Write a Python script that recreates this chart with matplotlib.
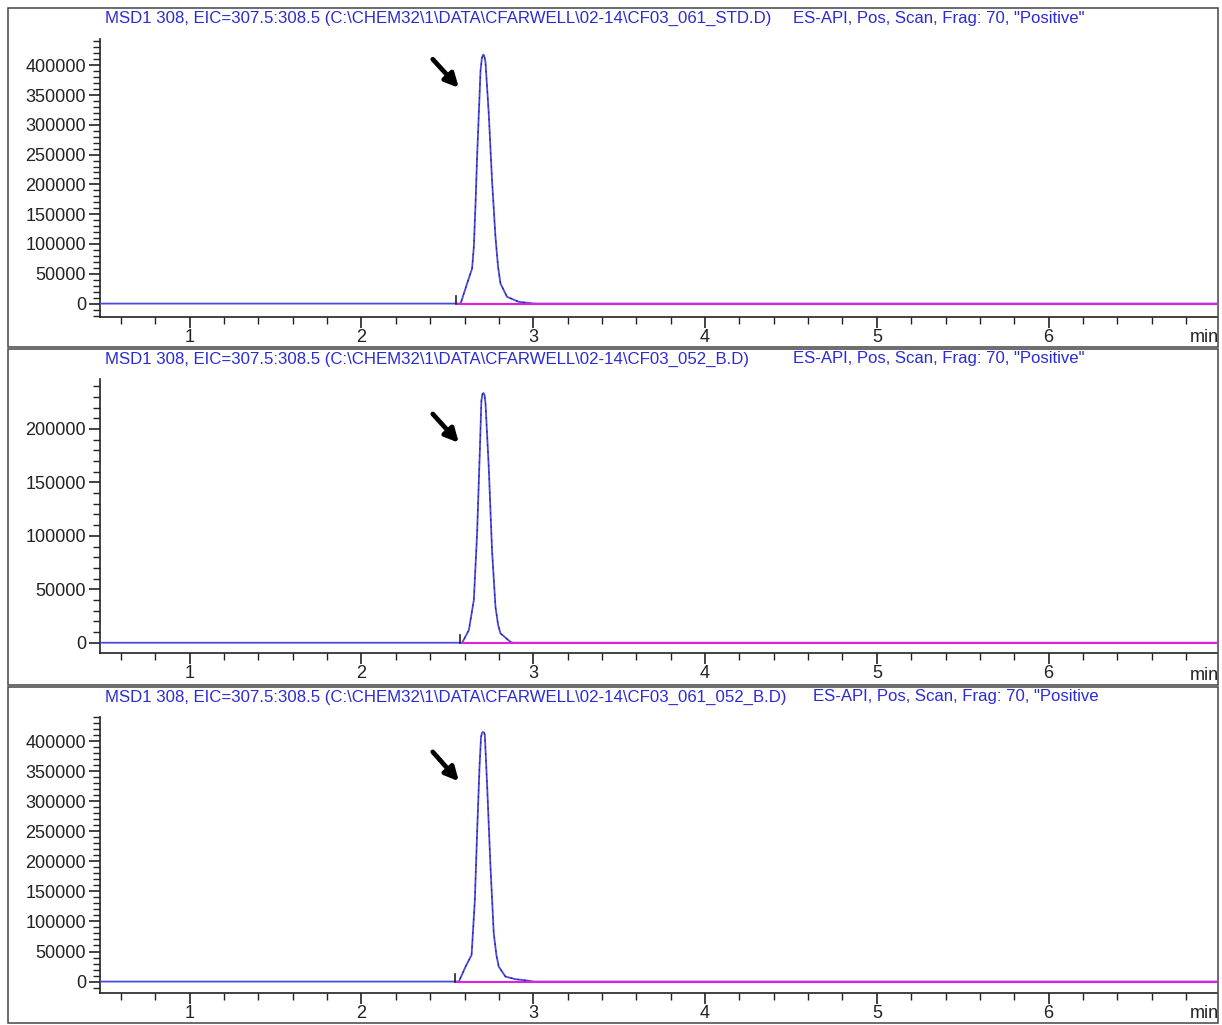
import numpy as np
import matplotlib.pyplot as plt
from matplotlib.ticker import MultipleLocator, AutoMinorLocator
from matplotlib.patches import Rectangle

plt.rcParams['font.family'] = ['Liberation Sans', 'DejaVu Sans']

# EIC m/z 308 traces, retention time (min) vs abundance
t_std = [0.48, 2.552, 2.577, 2.615, 2.644, 2.654, 2.664, 2.673, 2.683, 2.693, 2.701, 2.708,
         2.714, 2.722, 2.741, 2.760, 2.780, 2.795, 2.809, 2.847, 2.915, 2.992, 3.02, 6.98]
a_std = [0, 0, 0, 33800, 58900, 95000, 167700, 245700, 318300, 390800, 412000, 417600,
         416500, 405000, 318300, 206700, 111800, 62000, 33800, 11400, 3000, 400, 0, 0]

t_b = [0.48, 2.573, 2.586, 2.625, 2.654, 2.673, 2.689, 2.698, 2.704, 2.710, 2.716, 2.722,
       2.741, 2.760, 2.780, 2.795, 2.809, 2.866, 2.88, 6.98]
a_b = [0, 0, 0, 11800, 39800, 102000, 179600, 226200, 232500, 233600, 232000, 224000,
       164000, 86400, 33600, 17000, 8800, 900, 0, 0]

t_mix = [0.48, 2.544, 2.567, 2.606, 2.641, 2.660, 2.673, 2.687, 2.696, 2.702, 2.708, 2.714,
         2.718, 2.731, 2.751, 2.770, 2.785, 2.799, 2.838, 2.896, 2.964, 3.0, 6.98]
a_mix = [0, 0, 0, 24900, 44300, 135600, 246300, 356800, 406600, 414000, 415000, 414000,
         410000, 329300, 190900, 80300, 45000, 24900, 8300, 4000, 1700, 0, 0]

titles = [r'MSD1 308, EIC=307.5:308.5 (C:\CHEM32\1\DATA\CFARWELL\02-14\CF03_061_STD.D)',
          r'MSD1 308, EIC=307.5:308.5 (C:\CHEM32\1\DATA\CFARWELL\02-14\CF03_052_B.D)',
          r'MSD1 308, EIC=307.5:308.5 (C:\CHEM32\1\DATA\CFARWELL\02-14\CF03_061_052_B.D)']
methods = ['ES-API, Pos, Scan, Frag: 70, "Positive"',
           'ES-API, Pos, Scan, Frag: 70, "Positive"',
           'ES-API, Pos, Scan, Frag: 70, "Positive']

W, H = 1222, 1025
fig = plt.figure(figsize=(W / 100, H / 100), dpi=100)

# panel geometry in pixels: frame top/bottom, axes top/bottom, method text x
panels = [
    dict(t=t_std, a=a_std, start=2.552, frame=(8, 347), ax=(39, 316.7), ylim=(-22000, 444000),
         ymax=400000, arrow=((2.415, 410000), (2.567, 362000)), mx=793),
    dict(t=t_b, a=a_b, start=2.573, frame=(349, 685), ax=(379, 653), ylim=(-9600, 246700),
         ymax=200000, arrow=((2.415, 214000), (2.567, 187000)), mx=793),
    dict(t=t_mix, a=a_mix, start=2.544, frame=(687, 1023), ax=(717, 993), ylim=(-19000, 440000),
         ymax=400000, arrow=((2.415, 382000), (2.567, 333000)), mx=813),
]

x0, x1 = 100, 1217
for i, p in enumerate(panels):
    ftop, fbot = p['frame']
    fig.patches.append(Rectangle((8 / W, 1 - fbot / H), (1218 - 8) / W, (fbot - ftop) / H,
                                 transform=fig.transFigure, fill=False,
                                 edgecolor='#444444', linewidth=1.1))
    atop, abot = p['ax']
    ax = fig.add_axes([x0 / W, 1 - abot / H, (x1 - x0) / W, (abot - atop) / H])
    ax.set_xlim(0.478, 6.98)
    ax.set_ylim(*p['ylim'])

    t = np.array(p['t'])
    a = np.array(p['a'])
    ax.plot(t, a, color='#4a4ae0', lw=1.3, zorder=3)
    pk = (t >= p['start']) & (t <= 3.05)
    ax.plot(t[pk], a[pk], color='#1c1c70', lw=0.7, dashes=(2, 5), zorder=4)
    # integration baseline and start marker
    ax.plot([p['start'] + 0.01, 6.98], [0, 0], color='#e020e0', lw=1.5, zorder=5)
    lo, hi = p['ylim']
    f0 = (0 - lo) / (hi - lo)
    ax.axvline(p['start'], f0, f0 + 8 / (abot - atop), color='#222222', lw=1.2, zorder=6)

    ax.annotate('', xy=p['arrow'][1], xytext=p['arrow'][0],
                arrowprops=dict(arrowstyle='-|>,head_length=0.8,head_width=0.4',
                                color='black', lw=3.4, shrinkA=0, shrinkB=0))

    for s in ['top', 'right']:
        ax.spines[s].set_visible(False)
    ax.spines['left'].set_linewidth(1.2)
    ax.spines['bottom'].set_linewidth(1.2)
    ax.spines['left'].set_color('#222222')
    ax.spines['bottom'].set_color('#222222')

    ax.set_xticks([1, 2, 3, 4, 5, 6])
    ax.xaxis.set_minor_locator(MultipleLocator(0.2))
    ax.set_yticks(np.arange(0, p['ymax'] + 1, 50000))
    ax.yaxis.set_minor_locator(AutoMinorLocator(5))
    ax.tick_params(axis='both', which='major', direction='out', length=8, width=1.2,
                   colors='#222222', labelsize=13)
    ax.tick_params(axis='both', which='minor', direction='out', length=5, width=1.0,
                   colors='#222222')
    ax.tick_params(axis='x', pad=1)
    ax.tick_params(axis='y', pad=2)

    fig.text(105 / W, 1 - (ftop + 10) / H, titles[i], color='#2b2bd6', fontsize=12.1,
             ha='left', va='center')
    fig.text(p['mx'] / W, 1 - (ftop + 10) / H, methods[i], color='#2b2bd6', fontsize=12.1,
             ha='left', va='center')
    fig.text(1219 / W, 1 - (fbot - 10) / H, 'min', color='#222222', fontsize=13,
             ha='right', va='center')

fig.savefig('out.png', dpi=100)
